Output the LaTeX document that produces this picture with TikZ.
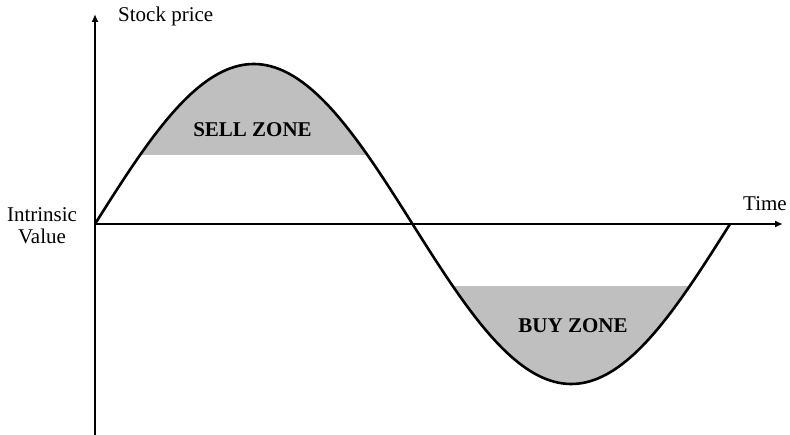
\documentclass[tikz,border=0pt]{standalone}
\usepackage{fontspec}
\setmainfont{Liberation Serif}
\usetikzlibrary{arrows.meta}

\begin{document}
\begin{tikzpicture}[x=1pt, y=-1pt, font=\fontsize{21}{22}\selectfont,
    axis/.style={line width=1.6pt, -{Latex[length=8pt, width=7pt]}},
    zone/.style={fill=black!25},
    txt/.style={inner sep=0pt}]
  \useasboundingbox (0,0) rectangle (790,435);
  % axes
  \coordinate (origin) at (95,224);
  \coordinate (ybot) at (95,435);
  \coordinate (ytop) at (95,14);
  \coordinate (xend) at (783,224);
  % buy and sell zones
  \begin{scope}
    \clip (95,0) rectangle (730,155);
    \fill[zone] plot[domain=95:412.5, samples=80] (\x, {224-160*sin((\x-95)/317.5*180)}) -- cycle;
  \end{scope}
  \begin{scope}
    \clip (95,287) rectangle (730,435);
    \fill[zone] plot[domain=412.5:730, samples=80] (\x, {224-160*sin((\x-95)/317.5*180)}) -- cycle;
  \end{scope}
  \draw[axis] (ybot) -- (ytop);
  \draw[axis] (origin) -- (xend);
  % price curve
  \draw[line width=2.6pt] plot[domain=95:730, samples=160] (\x, {224-160*sin((\x-95)/317.5*180)});
  \node[txt, anchor=base west] (price) at (118,22) {Stock price};
  \node[txt, anchor=base west] (time) at (743,211) {Time};
  \node[txt, align=center] (value) at (42,226) {Intrinsic\\ Value};
  \node[txt, font=\fontsize{21}{22}\selectfont\bfseries] (sell) at (252.5,129.5) {SELL ZONE};
  \node[txt, font=\fontsize{21}{22}\selectfont\bfseries] (buy) at (573,325.5) {BUY ZONE};
\end{tikzpicture}
\end{document}
